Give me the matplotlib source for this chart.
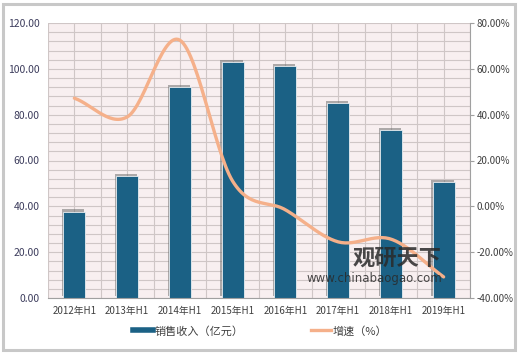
import numpy as np
import matplotlib
matplotlib.use("Agg")
import matplotlib.pyplot as plt
import matplotlib.patheffects as pe
from matplotlib.lines import Line2D
from matplotlib.patches import Rectangle

plt.rcParams['font.family'] = ['Noto Sans CJK SC', 'DejaVu Sans']

# 数据
categories = ['2012年H1', '2013年H1', '2014年H1', '2015年H1',
              '2016年H1', '2017年H1', '2018年H1', '2019年H1']
revenue = [37.7, 53.2, 92.1, 103.1, 101.3, 85.1, 73.2, 50.7]
growth = [47.2, 39.0, 72.5, 11.0, -1.5, -15.5, -14.3, -30.8]
left_ticks = [0, 20, 40, 60, 80, 100, 120]
right_ticks = [-40, -20, 0, 20, 40, 60, 80]

bar_color = '#1b6185'
line_color = '#f5b08a'
text_color = '#404040'


def catmull_rom(x, y, n=30):
    # Excel 风格平滑线
    x = np.asarray(x, float)
    y = np.asarray(y, float)
    px = np.concatenate([[2 * x[0] - x[1]], x, [2 * x[-1] - x[-2]]])
    py = np.concatenate([[2 * y[0] - y[1]], y, [2 * y[-1] - y[-2]]])
    xs, ys = [], []
    for i in range(1, len(px) - 2):
        t = np.linspace(0, 1, n, endpoint=False)
        for p, out in ((px, xs), (py, ys)):
            p0, p1, p2, p3 = p[i - 1], p[i], p[i + 1], p[i + 2]
            out.extend(0.5 * (2 * p1 + (-p0 + p2) * t
                              + (2 * p0 - 5 * p1 + 4 * p2 - p3) * t ** 2
                              + (-p0 + 3 * p1 - 3 * p2 + p3) * t ** 3))
    xs.append(x[-1])
    ys.append(y[-1])
    return np.array(xs), np.array(ys)


fig = plt.figure(figsize=(5.2, 3.54), dpi=100)
fig.patch.set_facecolor('white')

# 外框
fig.patches.append(Rectangle((0.006, 0.012), 0.984, 0.978, transform=fig.transFigure,
                             fill=False, edgecolor='#c8c8c8', lw=2.2, zorder=0))

ax = fig.add_axes([48 / 520, 1 - 298 / 354, 422 / 520, 275 / 354])
ax.set_facecolor('#f8eff0')
x = np.arange(len(categories))

# 网格
for v in np.arange(0, 121, 4):
    ax.axhline(v, color='#cfc6c6', lw=0.8, zorder=0.5)
for v in np.arange(-0.5, len(categories), 0.5):
    ax.axvline(v, color='#cfc6c6', lw=0.8, zorder=0.5)

ax.bar(x, revenue, width=0.42, color=bar_color, edgecolor='#e8eef2', lw=0.6, zorder=2,
       path_effects=[pe.SimplePatchShadow(offset=(-0.8, 1.6), shadow_rgbFace='#707070', alpha=0.55),
                     pe.Normal()])
ax.set_xlim(-0.5, len(categories) - 0.5)
ax.set_ylim(0, 120)
ax.set_yticks(left_ticks)
ax.set_yticklabels([f'{v:.2f}' for v in left_ticks], color='#3c3c5c', fontsize=7.5)
ax.set_xticks(x)
ax.set_xticklabels(categories, color=text_color, fontsize=7, family=['Noto Sans CJK SC'])
ax.tick_params(axis='both', length=0, pad=6)
for s in ['top', 'right', 'left']:
    ax.spines[s].set_visible(False)
ax.spines['bottom'].set_color('#a0a0a0')

ax2 = ax.twinx()
sx, sy = catmull_rom(x, growth)
ax2.plot(sx, sy, color=line_color, lw=2.4, solid_capstyle='round', zorder=3)
ax2.set_ylim(-40, 80)
ax2.set_yticks(right_ticks)
ax2.set_yticklabels([f'{v:.2f}%' for v in right_ticks], color=text_color, fontsize=7)
ax2.tick_params(axis='y', length=3, color='#a0a0a0', pad=2)
for s in ['top', 'left', 'bottom']:
    ax2.spines[s].set_visible(False)
ax2.spines['right'].set_color('#a0a0a0')

# 水印
fig.text(0.763, 0.271, '观研天下', fontsize=16, fontweight='bold', color='#2a2a2a',
         alpha=0.85, ha='center', va='center', zorder=5)
fig.text(0.72, 0.212, 'www.chinabaogao.com', fontsize=8.5, color='#2a2a2a',
         alpha=0.85, ha='center', va='center', family=['DejaVu Sans'], zorder=5)

handles = [Line2D([], [], color=bar_color, lw=4),
           Line2D([], [], color=line_color, lw=2.4)]
fig.legend(handles, ['销售收入（亿元）', '增速（%）'], loc='center',
           bbox_to_anchor=(0.5, 1 - 331 / 354), ncol=2, frameon=False,
           fontsize=8, handlelength=1.8, handletextpad=0.2, columnspacing=6,
           labelcolor=text_color)

fig.savefig('out.png', dpi=100)
